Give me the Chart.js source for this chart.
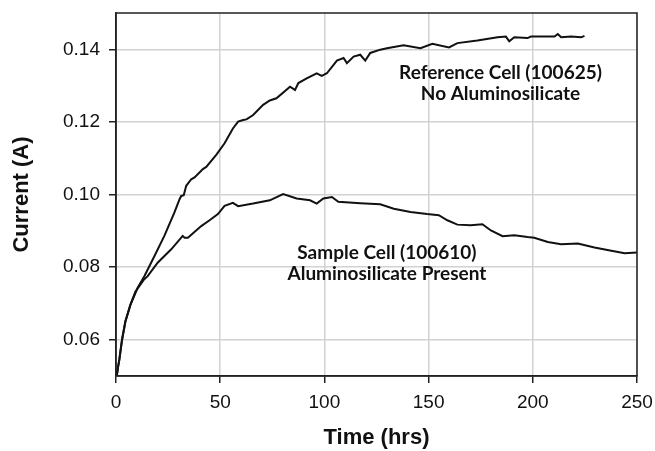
<!DOCTYPE html>
<html>
<head>
<meta charset="utf-8">
<script src="https://cdn.jsdelivr.net/npm/chart.js@4.4.1/dist/chart.umd.min.js"></script>
<style>
  body { margin: 0; background: #fff; }
  #wrap { width: 655px; height: 451px; }
</style>
</head>
<body>
<div id="wrap"><canvas id="chart" width="655" height="451"></canvas></div>
<script>
// Reference cell (100625), no aluminosilicate
var refHours = [0, 0.5, 1, 1.6, 2.9, 4.5, 6.9, 10.4, 13.6, 18.4, 23.2, 28, 30.5, 31.3,
  32.5, 33.7, 36.1, 37.7, 41.7, 43.3, 48.1, 52.1, 56.1, 58.6, 61, 62.6, 65.8, 70.6, 73.8,
  77, 83.5, 85.9, 87.5, 91.5, 96.3, 98.7, 101.2, 106, 109.2, 110.8, 114, 117.2, 119.6,
  122, 126.8, 130, 138, 146.1, 151.8, 159.8, 163.8, 173.4, 183.1, 187.1, 188.7, 191.1,
  197.5, 199.1, 210.4, 212, 213.6, 218.4, 223.2, 224.8];
var refCurrent = [0.050, 0.0505, 0.0525, 0.0545, 0.060, 0.065, 0.0696, 0.0743, 0.0775,
  0.083, 0.0886, 0.095, 0.0987, 0.0996, 0.0998, 0.1024, 0.1042, 0.1047, 0.107, 0.1076,
  0.1109, 0.1141, 0.1182, 0.1201, 0.1205, 0.1207, 0.1219, 0.1247, 0.1259, 0.1265, 0.1297,
  0.1288, 0.1307, 0.1320, 0.1334, 0.1327, 0.1334, 0.1369, 0.1376, 0.1362, 0.138, 0.1385,
  0.1369, 0.1390, 0.1399, 0.1403, 0.1411, 0.1403, 0.1415, 0.1405, 0.1417, 0.1424, 0.1433,
  0.1435, 0.1422, 0.1433, 0.1431, 0.1435, 0.1435, 0.1442, 0.1433, 0.1435, 0.1433, 0.1437];

// Sample cell (100610), aluminosilicate present
var sampleHours = [0, 0.5, 1, 1.6, 2.9, 4.5, 6.9, 9.3, 13.3, 15.2, 20, 26.5, 32, 32.9,
  34.5, 40.9, 44.9, 48.9, 52.1, 56.1, 58.6, 65.8, 73.8, 80.2, 86.7, 93.1, 96.3, 99.5,
  103.6, 106.7, 117.2, 126.8, 133.3, 141.3, 149.3, 154.9, 159, 163.8, 170.2, 175.8, 179.9,
  185.5, 191.1, 197.5, 200.7, 207.2, 213.6, 221.6, 229.6, 237.7, 244.1, 250];
var sampleCurrent = [0.050, 0.0505, 0.0525, 0.0545, 0.060, 0.065, 0.0696, 0.0732, 0.0765,
  0.0775, 0.0812, 0.0849, 0.0886, 0.0881, 0.0881, 0.0913, 0.0929, 0.0946, 0.0969, 0.0977,
  0.0968, 0.0975, 0.0984, 0.1001, 0.0989, 0.0984, 0.0975, 0.0989, 0.0993, 0.098, 0.0976,
  0.0973, 0.0961, 0.0952, 0.0946, 0.0943, 0.0929, 0.0917, 0.0915, 0.0918, 0.0901, 0.0885,
  0.0888, 0.0883, 0.0881, 0.0869, 0.0863, 0.0865, 0.0854, 0.0845, 0.0838, 0.084];

var yTicks = [0.06, 0.08, 0.10, 0.12, 0.14];
var xTicks = [0, 50, 100, 150, 200, 250];

// Text labels in the plot (hours, current)
var notes = [
  { lines: ["Reference Cell (100625)", "No Aluminosilicate"], x: 184.5, y: [0.1335, 0.1277] },
  { lines: ["Sample Cell (100610)", "Aluminosilicate Present"], x: 130, y: [0.0839, 0.0781] }
];

function toPoints(xs, ys) {
  return xs.map(function (h, i) { return { x: h, y: ys[i] }; });
}

var frame = {
  id: "frame",
  afterDatasetsDraw: function (chart) {
    var ctx = chart.ctx;
    var a = chart.chartArea;
    var xs = chart.scales.x;
    var ys = chart.scales.y;

    // Notes
    ctx.save();
    ctx.fillStyle = "#111";
    ctx.font = "bold 19px Lato";
    ctx.textAlign = "center";
    ctx.textBaseline = "middle";
    notes.forEach(function (n) {
      n.lines.forEach(function (t, i) {
        ctx.fillText(t, xs.getPixelForValue(n.x), ys.getPixelForValue(n.y[i]));
      });
    });
    ctx.restore();

    // Box round the plot
    ctx.save();
    ctx.strokeStyle = "#222";
    ctx.lineWidth = 1.5;
    ctx.strokeRect(a.left, a.top, a.right - a.left, a.bottom - a.top);
    ctx.restore();
  }
};

var tickFont = { family: "'Liberation Sans', Arial, sans-serif", size: 19 };
var titleFont = { family: "'Liberation Sans', Arial, sans-serif", size: 22, weight: "bold" };

var chart = new Chart(document.getElementById("chart").getContext("2d"), {
  type: "line",
  data: {
    datasets: [
      {
        label: "Reference Cell (100625)",
        data: toPoints(refHours, refCurrent),
        borderColor: "#111",
        borderWidth: 2,
        pointRadius: 0,
        fill: false,
        tension: 0
      },
      {
        label: "Sample Cell (100610)",
        data: toPoints(sampleHours, sampleCurrent),
        borderColor: "#111",
        borderWidth: 2,
        pointRadius: 0,
        fill: false,
        tension: 0
      }
    ]
  },
  options: {
    responsive: false,
    animation: false,
    layout: { padding: { left: 0, top: 13, right: 18, bottom: 0 } },
    plugins: {
      legend: { display: false },
      tooltip: { enabled: false }
    },
    scales: {
      x: {
        type: "linear",
        min: 0,
        max: 250,
        afterBuildTicks: function (scale) {
          scale.ticks = xTicks.map(function (v) { return { value: v }; });
        },
        ticks: { font: tickFont, color: "#111", padding: 8, maxRotation: 0 },
        grid: { color: "#d2d2d2", lineWidth: 1.5, tickLength: 7, tickColor: "#222" },
        border: { color: "#222", width: 1.5 },
        title: { display: true, text: "Time (hrs)", font: titleFont, color: "#111", padding: { top: 0, bottom: 0 } },
        afterFit: function (scale) {
          scale.height = 75;
          scale.paddingLeft = 0;
          scale.paddingRight = 0;
        }
      },
      y: {
        min: 0.05,
        max: 0.15,
        afterBuildTicks: function (scale) {
          scale.ticks = yTicks.map(function (v) { return { value: v }; });
        },
        ticks: {
          font: tickFont,
          color: "#111",
          padding: 9,
          callback: function (v) { return v.toFixed(2); }
        },
        grid: { color: "#d2d2d2", lineWidth: 1.5, tickLength: 7, tickColor: "#222" },
        border: { color: "#222", width: 1.5 },
        title: { display: true, text: "Current (A)", font: titleFont, color: "#111", padding: { top: 9, bottom: 0 } },
        afterFit: function (scale) {
          scale.width = 116;
          scale.paddingTop = 0;
          scale.paddingBottom = 0;
        }
      }
    }
  },
  plugins: [frame]
});
</script>
</body>
</html>
